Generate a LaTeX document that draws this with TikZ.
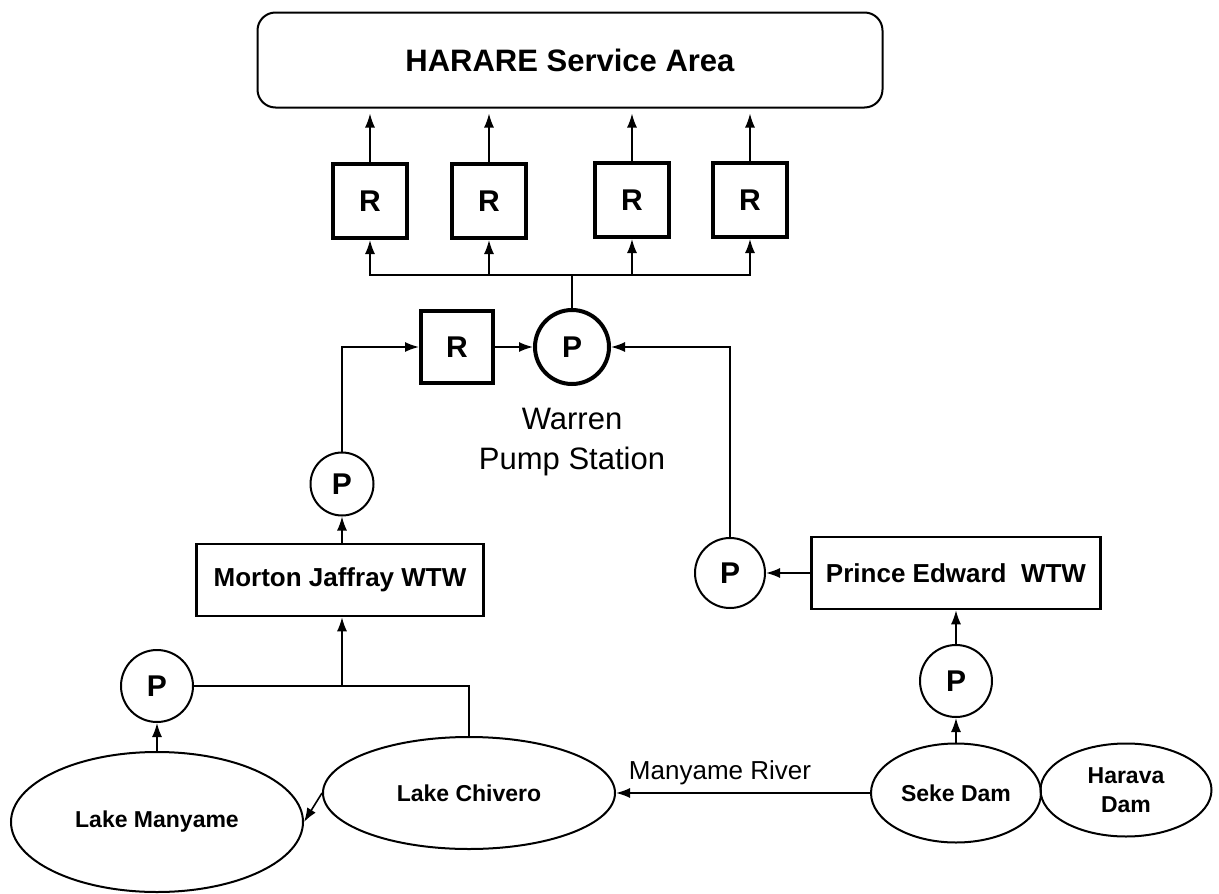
\documentclass[tikz,border=0pt]{standalone}
\usepackage{fontspec}
\setmainfont{Liberation Sans}
\usetikzlibrary{arrows.meta,shapes.geometric}

\tikzset{
  flow/.style={-{Latex[length=14pt,width=10pt]}, line width=1.6pt},
  pipe/.style={line width=1.6pt},
  tank/.style={draw, line width=4pt, minimum size=74pt, inner sep=0pt,
    font=\fontsize{30}{30}\selectfont\bfseries},
  pump/.style={draw, circle, line width=2pt, minimum size=72pt, inner sep=0pt,
    font=\fontsize{30}{30}\selectfont\bfseries},
  works/.style={draw, line width=2.5pt, minimum height=72pt, inner sep=0pt,
    font=\fontsize{26}{26}\selectfont\bfseries},
  lake/.style={draw, ellipse, line width=2pt, inner sep=0pt, align=center,
    font=\fontsize{23}{29}\selectfont\bfseries},
}

\begin{document}
\begin{tikzpicture}[x=1pt, y=-1pt]
  \useasboundingbox (0,0) rectangle (1219,894);
  % Service area
  \node[draw, line width=2pt, rounded corners=18pt, minimum width=625pt, minimum height=95pt,
    font=\fontsize{31}{31}\selectfont\bfseries] (area) at (570,60) {HARARE Service Area};
  % Reservoirs
  \node[tank] (r1) at (370,201) {R};
  \node[tank] (r2) at (489,201) {R};
  \node[tank] (r3) at (632,200) {R};
  \node[tank] (r4) at (750,200) {R};
  \node[tank, minimum size=72pt] (rw) at (457,347) {R};
  % Warren pump station
  \node[pump, line width=4pt, minimum size=74pt] (warren) at (572,347) {P};
  \node[align=center, font=\fontsize{31}{40}\selectfont] (warrenlbl) at (572,442) {Warren\\Pump Station};
  \coordinate (bus) at (572,275);
  % Morton Jaffray side
  \node[pump, minimum size=63pt] (pmj) at (342,484) {P};
  \node[works, minimum width=287pt] (morton) at (340,580) {Morton Jaffray WTW};
  \node[pump] (plm) at (157,686) {P};
  \coordinate (jct) at (342,686);
  \node[lake, minimum width=292pt, minimum height=140pt] (manyame) at (157,822) {Lake Manyame};
  \node[lake, minimum width=292pt, minimum height=112pt] (chivero) at (469,793) {Lake Chivero};
  % Prince Edward side
  \node[pump, minimum size=70pt] (ppe) at (730,573) {P};
  \node[works, minimum width=289pt] (prince) at (956,573) {Prince Edward\ \ WTW};
  \node[pump] (pseke) at (956,681) {P};
  \node[lake, minimum width=170pt, minimum height=99pt] (seke) at (956,793) {Seke Dam};
  \node[lake, minimum width=171pt, minimum height=93pt] (harava) at (1126,790) {Harava\\Dam};
  \node[font=\fontsize{26}{26}\selectfont] (river) at (720,773) {Manyame River};
  % Connections
  \foreach \r in {r1,r2,r3,r4}
    \draw[flow, shorten >=5pt] (\r.north) -- (\r.north |- area.south);
  \draw[pipe] (warren.north) -- (bus);
  \foreach \r in {r1,r2,r3,r4}
    \draw[flow] (bus) -| (\r.south);
  \draw[flow] (rw.east) -- (warren.west);
  \draw[flow] (pmj.north) |- (rw.west);
  \draw[flow] (morton.north -| pmj) -- (pmj.south);
  \draw[pipe] (plm.east) -- (jct);
  \draw[pipe] (chivero.north) |- (jct);
  \draw[flow] (jct) -- (jct |- morton.south);
  \draw[flow] (manyame.north) -- (plm.south);
  \draw[flow] (chivero.west) -- (manyame.east);
  \draw[flow] (seke.west) -- (chivero.east);
  \draw[flow] (seke.north) -- (pseke.south);
  \draw[flow] (pseke.north) -- (prince.south);
  \draw[flow] (prince.west) -- (ppe.east);
  \draw[flow] (ppe.north) |- (warren.east);
\end{tikzpicture}
\end{document}
